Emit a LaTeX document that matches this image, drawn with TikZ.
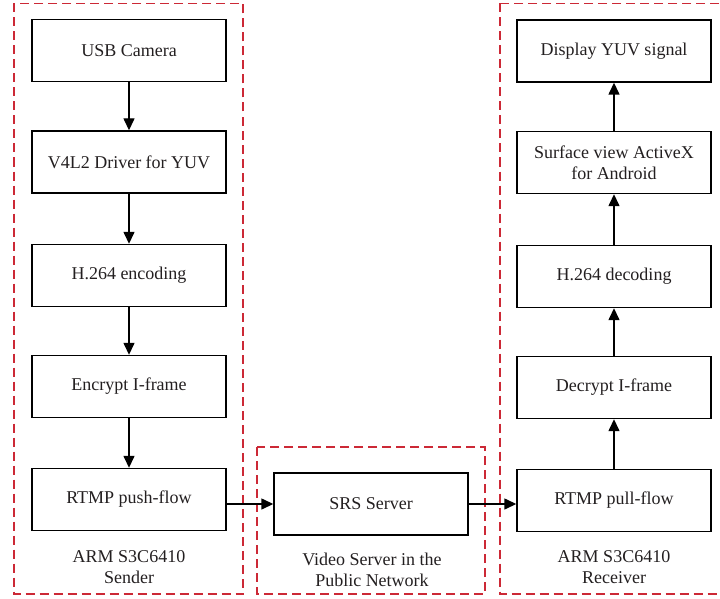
\documentclass[tikz,border=0pt]{standalone}
\usepackage{fontspec}
\setmainfont{Liberation Serif}
\usetikzlibrary{arrows.meta}
\definecolor{dashred}{RGB}{204,41,54}
\definecolor{txt}{RGB}{35,31,32}
\tikzset{
  blk/.style={draw=black, line width=1.4pt, minimum width=194pt, minimum height=62pt, inner sep=0pt, align=center, text=txt, font=\fontsize{18}{21}\selectfont},
  grp/.style={draw=dashred, line width=1.2pt, dash pattern=on 9pt off 5pt},
  lbl/.style={align=center, text=txt, inner sep=0pt, font=\fontsize{18}{21}\selectfont},
  arr/.style={line width=1.4pt, -{Triangle[length=12pt,width=11pt]}}
}
\begin{document}
\begin{tikzpicture}[x=1pt,y=-1pt]
\useasboundingbox (0,0) rectangle (720,599);
\begin{scope}
\clip (0,0) rectangle (720,599);
\draw[grp] (14,3.5) rectangle (243,594);
\draw[grp] (257,447) rectangle (485,594);
\draw[grp] (500,3.5) rectangle (740,594);
\end{scope}
% left column
\node[blk] (usb) at (129,50.5) {USB Camera};
\node[blk] (v4l2) at (129,162) {V4L2 Driver for YUV};
\node[blk] (enc) at (129,275.5) {H.264 encoding};
\node[blk] (encr) at (129,386.5) {Encrypt I-frame};
\node[blk] (push) at (129,499.5) {RTMP push-flow};
% middle
\node[blk] (srs) at (371,504) {SRS Server};
% right column
\node[blk] (disp) at (614,51) {Display YUV signal};
\node[blk] (surf) at (614,162.5) {Surface view ActiveX\\for Android};
\node[blk] (dec) at (614,276.5) {H.264 decoding};
\node[blk] (decr) at (614,387.5) {Decrypt I-frame};
\node[blk] (pull) at (614,500.5) {RTMP pull-flow};
% group labels
\node[lbl] (lsend) at (129,567.5) {ARM S3C6410\\Sender};
\node[lbl] (lmid) at (372,569.5) {Video Server in the\\Public Network};
\node[lbl] (lrecv) at (614,567.5) {ARM S3C6410\\Receiver};
% arrows
\draw[arr] (usb) -- (v4l2);
\draw[arr] (v4l2) -- (enc);
\draw[arr] (enc) -- (encr);
\draw[arr] (encr) -- (push);
\draw[arr] (push.east |- srs.west) -- (srs.west);
\draw[arr] (srs.east) -- (srs.east -| pull.west);
\draw[arr] (pull) -- (decr);
\draw[arr] (decr) -- (dec);
\draw[arr] (dec) -- (surf);
\draw[arr] (surf) -- (disp);
\end{tikzpicture}
\end{document}
